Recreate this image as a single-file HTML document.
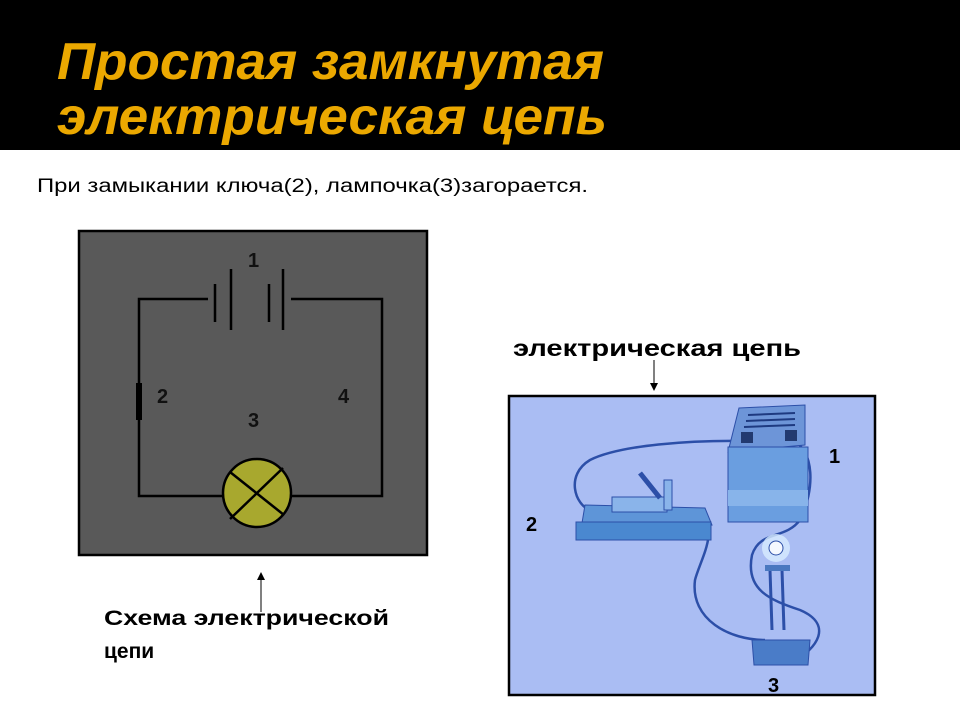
<!DOCTYPE html>
<html><head><meta charset="utf-8"><style>
html,body{margin:0;padding:0;background:#fff;}
svg{display:block}
text{font-family:"Liberation Sans",sans-serif}
</style></head><body>
<svg width="960" height="720" viewBox="0 0 960 720" xmlns="http://www.w3.org/2000/svg">
<rect x="0" y="0" width="960" height="150" fill="#000"/>
<text x="57" y="79" font-size="52" font-weight="bold" font-style="italic" fill="#eba800" textLength="547" lengthAdjust="spacingAndGlyphs">Простая замкнутая</text>
<text x="57" y="134" font-size="52" font-weight="bold" font-style="italic" fill="#eba800" textLength="550" lengthAdjust="spacingAndGlyphs">электрическая цепь</text>
<text x="37" y="192" font-size="19" fill="#000" textLength="551" lengthAdjust="spacingAndGlyphs">При замыкании ключа(2), лампочка(3)загорается.</text>

<!-- schematic -->
<rect x="79" y="231" width="348" height="324" fill="#595959" stroke="#000" stroke-width="2.5"/>
<g stroke="#000" stroke-width="2.5" fill="none">
<polyline points="208,299 139,299 139,496 224,496"/>
<polyline points="291,299 382,299 382,496 290,496"/>
<line x1="215" y1="284" x2="215" y2="322"/>
<line x1="231" y1="269" x2="231" y2="330"/>
<line x1="269" y1="284" x2="269" y2="322"/>
<line x1="283" y1="269" x2="283" y2="330"/>
</g>
<line x1="139" y1="383" x2="139" y2="420" stroke="#000" stroke-width="6"/>
<circle cx="257" cy="493" r="34" fill="#a8a82e" stroke="#000" stroke-width="2.5"/>
<line x1="230" y1="472" x2="284" y2="515" stroke="#000" stroke-width="2.5"/>
<line x1="283" y1="468" x2="230" y2="519" stroke="#000" stroke-width="2.5"/>
<g font-size="20" font-weight="bold" fill="#111">
<text x="248" y="267">1</text>
<text x="157" y="403">2</text>
<text x="248" y="427">3</text>
<text x="338" y="403">4</text>
</g>
<line x1="261" y1="612" x2="261" y2="578" stroke="#000" stroke-width="1"/>
<polygon points="261,572 257,580 265,580" fill="#000"/>
<text x="104" y="625" font-size="21" font-weight="bold" fill="#000" textLength="285" lengthAdjust="spacingAndGlyphs">Схема электрической</text>
<text x="104" y="658" font-size="21" font-weight="bold" fill="#000">цепи</text>

<!-- photo -->
<text x="513" y="356" font-size="23" font-weight="bold" fill="#000" textLength="288" lengthAdjust="spacingAndGlyphs">электрическая цепь</text>
<line x1="654" y1="360" x2="654" y2="384" stroke="#000" stroke-width="1"/>
<polygon points="654,391 650,383 658,383" fill="#000"/>
<rect x="509" y="396" width="366" height="299" fill="#aabdf3" stroke="#000" stroke-width="2.5"/>
<g fill="none" stroke="#2c4fa8" stroke-width="2.5">
<path d="M748,441 C690,440 620,445 590,460 C565,475 575,505 590,510"/>
<path d="M792,440 C815,450 815,490 800,520 C785,540 760,530 752,555 C745,590 770,600 800,610 C835,625 815,650 795,660"/>
<path d="M700,512 C720,530 700,560 695,580 C690,620 730,640 765,640"/>
</g>
<!-- battery box -->
<polygon points="739,408 805,405 805,445 728,452" fill="#6d95d8" stroke="#2c4fa8"/>
<rect x="728" y="447" width="80" height="75" fill="#6a9ee0" stroke="#2c4fa8"/>
<rect x="728" y="490" width="80" height="16" fill="#88b4ea"/>
<g stroke="#1e3a80" stroke-width="2">
<line x1="748" y1="415" x2="795" y2="413"/><line x1="746" y1="421" x2="795" y2="419"/><line x1="744" y1="427" x2="795" y2="425"/>
</g>
<rect x="741" y="432" width="12" height="11" fill="#223a70"/>
<rect x="785" y="430" width="12" height="11" fill="#223a70"/>
<!-- switch -->
<polygon points="585,505 705,508 712,525 580,535" fill="#5e95d8" stroke="#2c4fa8"/>
<rect x="576" y="522" width="135" height="18" fill="#4a88d0" stroke="#2c4fa8"/>
<rect x="612" y="497" width="55" height="15" fill="#8ab4ea" stroke="#2c4fa8"/>
<line x1="640" y1="473" x2="660" y2="498" stroke="#2c4fa8" stroke-width="5"/>
<rect x="664" y="480" width="8" height="30" fill="#8ab4ea" stroke="#2c4fa8"/>
<!-- lamp -->
<circle cx="776" cy="548" r="14" fill="#d8ecff" opacity="0.8"/>
<circle cx="776" cy="548" r="7" fill="#f4f8ff" stroke="#2c4fa8"/>
<path d="M770,570 L772,630 M782,570 L784,630" stroke="#2c4fa8" stroke-width="3" fill="none"/>
<rect x="765" y="565" width="25" height="6" fill="#4a78c0"/>
<polygon points="752,640 810,640 808,665 754,665" fill="#4a7cc8" stroke="#2c4fa8"/>
<g font-size="20" font-weight="bold" fill="#000">
<text x="829" y="463">1</text>
<text x="526" y="531">2</text>
<text x="768" y="692">3</text>
</g>
</svg>
</body></html>
